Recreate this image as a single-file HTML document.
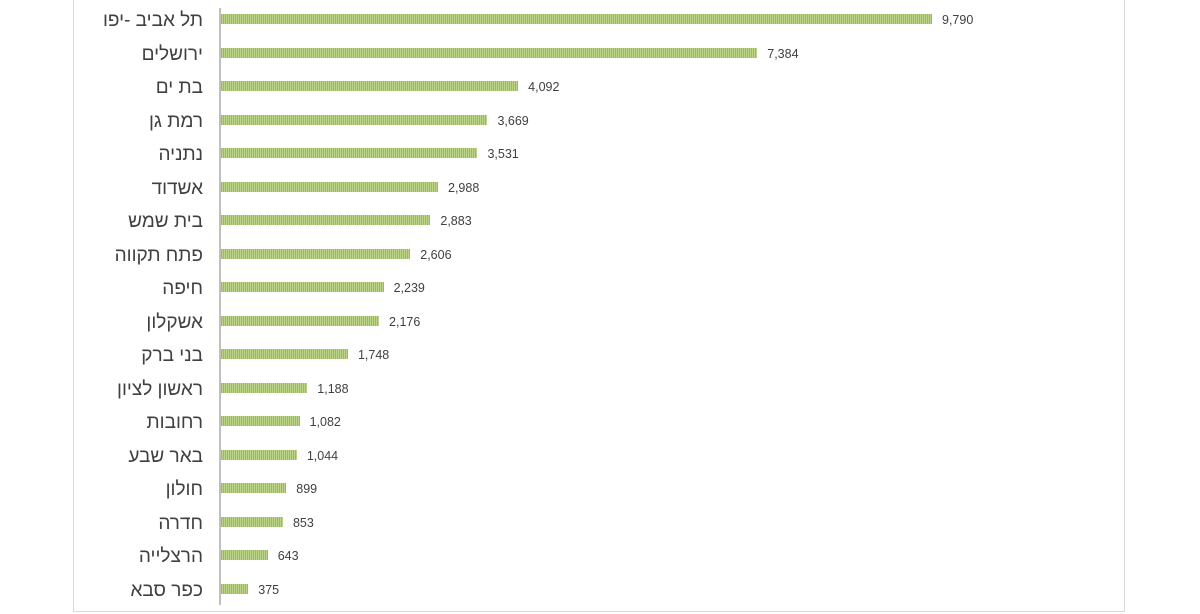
<!DOCTYPE html>
<html><head><meta charset="utf-8"><style>
body{margin:0;width:1200px;height:614px;background:#fff;overflow:hidden;position:relative;font-family:"Liberation Sans","DejaVu Sans",sans-serif}
.frame{position:absolute;left:73px;top:0;width:1052px;height:612px;border:1px solid #d9d9d9;border-top:none;box-sizing:border-box}
.axis{position:absolute;left:219px;top:8px;width:2px;height:597px;background:#bfbfbf}
.bar{position:absolute;left:221px;height:10px;background:repeating-linear-gradient(90deg,#9bbb59 0,#9bbb59 1px,#bcd48a 1px,#bcd48a 2px)}
.lab{position:absolute;right:997px;font-size:19px;color:#404040;direction:rtl;white-space:nowrap;font-family:"Liberation Sans","DejaVu Sans",sans-serif;line-height:20px}
.val{position:absolute;font-size:12.5px;color:#404040;line-height:14px}
</style></head><body>
<div class="frame"></div>
<div class="axis"></div>
<div id="c"></div>
<script>
var d=[["תל אביב -יפו",9790,"9,790"],["ירושלים",7384,"7,384"],["בת ים",4092,"4,092"],["רמת גן",3669,"3,669"],["נתניה",3531,"3,531"],["אשדוד",2988,"2,988"],["בית שמש",2883,"2,883"],["פתח תקווה",2606,"2,606"],["חיפה",2239,"2,239"],["אשקלון",2176,"2,176"],["בני ברק",1748,"1,748"],["ראשון לציון",1188,"1,188"],["רחובות",1082,"1,082"],["באר שבע",1044,"1,044"],["חולון",899,"899"],["חדרה",853,"853"],["הרצלייה",643,"643"],["כפר סבא",375,"375"]];
var h="";
d.forEach(function(r,i){var y=19+i*33.5;var w=r[1]*711/9790;
h+='<div class="lab" style="top:'+(y-8)+'px">'+r[0]+'</div>';
h+='<div class="bar" style="top:'+(y-5)+'px;width:'+w+'px"></div>';
h+='<div class="val" style="top:'+(y-6)+'px;left:'+(221+w+10)+'px">'+r[2]+'</div>';});
document.getElementById("c").innerHTML=h;
</script>
</body></html>
